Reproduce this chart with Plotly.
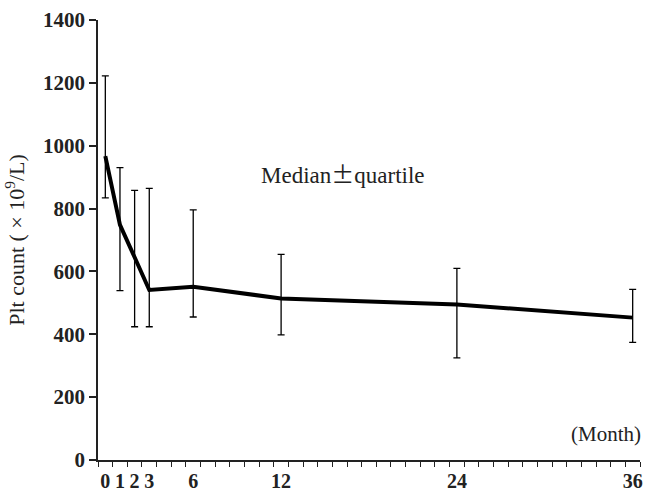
import plotly.graph_objects as go

months = [0, 1, 2, 3, 6, 12, 24, 36]
median = [967, 748, 645, 541, 551, 514, 495, 453]
upper_q = [1222, 930, 858, 864, 796, 654, 610, 543]
lower_q = [834, 539, 424, 424, 455, 398, 325, 374]
y_ticks = [0, 200, 400, 600, 800, 1000, 1200, 1400]

err_plus = [u - m for u, m in zip(upper_q, median)]
err_minus = [m - l for m, l in zip(median, lower_q)]

serif = "Liberation Serif, Times New Roman, serif"

fig = go.Figure()
fig.add_trace(go.Scatter(
    x=months, y=median, mode="lines",
    line=dict(color="black", width=4),
    error_y=dict(type="data", symmetric=False, array=err_plus, arrayminus=err_minus,
                 color="black", thickness=1.3, width=3.5),
    showlegend=False,
))

fig.update_layout(
    width=645, height=495,
    margin=dict(l=98, r=5, t=20, b=35),
    plot_bgcolor="white", paper_bgcolor="white",
    font=dict(family=serif, color="#222"),
    xaxis=dict(
        range=[-0.5, 36.5], tickvals=months, ticktext=[str(m) for m in months],
        ticks="", showgrid=False, zeroline=False, automargin=False,
        showline=True, linecolor="#222", linewidth=1.5,
        tickfont=dict(family=serif, size=20, color="#222", weight="bold"),
        minor=dict(tick0=0.5, dtick=1, ticks="outside", ticklen=5, tickcolor="#222", tickwidth=1, showgrid=False),
        ticklabelstandoff=2,
    ),
    yaxis=dict(
        range=[0, 1400], tickvals=y_ticks,
        ticks="outside", ticklen=7, tickcolor="#222", tickwidth=1.5,
        showgrid=False, zeroline=False, automargin=False,
        showline=True, linecolor="#222", linewidth=1.5,
        tickfont=dict(family=serif, size=21, color="#222", weight="bold"),
        title=dict(text="Plt count ( × 10<sup>9</sup>/L)", font=dict(family=serif, size=22, color="#222"), standoff=12),
    ),
    annotations=[
        dict(text="Median<span style='font-family:Noto Sans CJK SC'>±</span>quartile",
             x=16.2, y=913, xref="x", yref="y", showarrow=False,
             font=dict(family=serif, size=23, color="#222"), xanchor="center", yanchor="middle"),
        dict(text="(Month)", x=1, y=0, xref="paper", yref="paper", showarrow=False,
             xanchor="right", yanchor="bottom", yshift=12, xshift=3,
             font=dict(family=serif, size=21, color="#222")),
    ],
)

fig.write_html("out.html", config={"displayModeBar": False},
               post_script="document.body.style.margin='0';")
